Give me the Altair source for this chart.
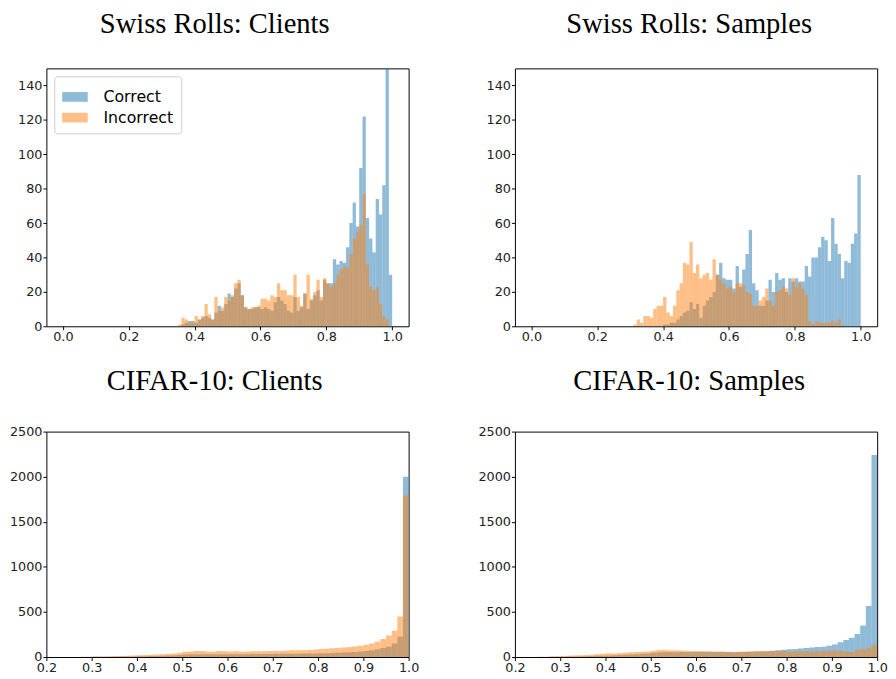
import altair as alt
import pandas as pd

# ---------------- data ----------------
# Swiss Rolls: Clients  (bin width 0.01)
tl_correct_start = 0.35
tl_correct = [0, 1, 2, 3, 3, 2, 4, 5, 6, 5,
              4, 8, 12, 9, 13, 19, 17, 22, 25, 18,
              11, 10, 10, 11, 11, 10, 11, 10, 9, 14,
              17, 15, 13, 9, 8, 17, 9, 11, 19, 10,
              15, 18, 21, 15, 27, 25, 25, 39, 36, 38,
              37, 46, 60, 72, 58, 92, 122, 63, 51, 43,
              74, 65, 82, 165, 30]
tl_incorrect_start = 0.35
tl_incorrect = [1, 5, 4, 2, 2, 6, 4, 6, 13, 7,
                4, 17, 9, 11, 17, 15, 18, 25, 27, 18,
                11, 10, 11, 11, 12, 16, 16, 15, 18, 17,
                25, 21, 21, 18, 18, 30, 17, 12, 19, 30,
                16, 20, 27, 17, 28, 25, 23, 25, 30, 33,
                35, 34, 42, 51, 55, 59, 77, 36, 23, 21,
                23, 13, 6, 4, 0]

# Swiss Rolls: Samples  (bin width 0.01)
tr_correct_start = 0.40
tr_correct = [1, 1, 2, 2, 4, 6, 8, 9, 14, 10,
              13, 5, 12, 15, 17, 20, 30, 37, 28, 27,
              27, 22, 35, 23, 33, 42, 56, 25, 21, 12,
              12, 15, 27, 20, 31, 27, 28, 20, 28, 26,
              28, 26, 26, 35, 29, 40, 40, 46, 52, 50,
              38, 63, 48, 42, 28, 38, 37, 48, 54, 88]
tr_incorrect_start = 0.31
tr_incorrect = [1, 4, 2, 6, 6, 5, 10, 12, 12, 17,
                8, 6, 12, 21, 25, 37, 36, 49, 31, 36,
                28, 30, 31, 27, 39, 30, 27, 25, 22, 23,
                20, 25, 25, 24, 20, 19, 12, 12, 15, 17,
                22, 15, 12, 20, 21, 23, 22, 18, 28, 23,
                25, 22, 18, 3, 1, 3, 2, 2, 2, 2,
                3, 2, 4]

# CIFAR-10 (bin width 0.0125, starting at 0.25)
bl_correct = [0, 0, 1, 1, 2, 2, 3, 3, 4, 5,
              6, 7, 8, 9, 10, 12, 14, 16, 18, 22,
              28, 30, 32, 31, 30, 30, 32, 32, 31, 32,
              30, 32, 33, 33, 34, 34, 35, 35, 36, 36,
              37, 38, 38, 40, 42, 43, 45, 47, 50, 53,
              57, 62, 68, 76, 85, 100, 115, 150, 225, 2000]
bl_incorrect = [0, 0, 2, 3, 5, 6, 7, 8, 10, 12,
                15, 17, 20, 22, 25, 28, 30, 33, 38, 45,
                58, 62, 68, 66, 60, 58, 66, 64, 62, 63,
                58, 62, 63, 64, 65, 66, 67, 68, 72, 74,
                75, 76, 78, 84, 88, 92, 96, 100, 105, 112,
                118, 125, 135, 150, 170, 200, 240, 290, 450, 1790]
br_correct = [0, 1, 2, 3, 4, 5, 6, 7, 9, 11,
              13, 15, 18, 20, 22, 25, 28, 32, 36, 40,
              46, 52, 55, 55, 54, 55, 56, 57, 58, 58,
              58, 57, 56, 55, 54, 55, 56, 58, 60, 62,
              65, 70, 75, 80, 85, 90, 95, 100, 105, 110,
              115, 125, 140, 165, 190, 215, 255, 350, 565, 2240]
br_incorrect = [2, 4, 6, 8, 10, 13, 16, 19, 22, 26,
                30, 36, 42, 40, 44, 48, 52, 55, 58, 62,
                70, 78, 80, 76, 74, 72, 70, 66, 64, 63,
                62, 60, 60, 58, 56, 58, 60, 62, 64, 66,
                68, 68, 66, 64, 62, 62, 63, 64, 65, 66,
                68, 70, 72, 70, 62, 56, 80, 90, 100, 135]
cifar_start = 0.25

series_names = ["Correct", "Incorrect"]
series_colors = ["#1f77b4", "#ff7f0e"]

titles = ["Swiss Rolls: Clients", "Swiss Rolls: Samples",
          "CIFAR-10: Clients", "CIFAR-10: Samples"]


def hist_frame(start, width, counts, name):
    rows = []
    for i, c in enumerate(counts):
        s = round(start + i * width, 5)
        rows.append({"start": s, "end": round(s + width, 5), "count": c,
                     "zero": 0, "series": name})
    return rows


def panel(rows, title, xdom, xticks, ydom, yticks, w, h, legend, dx):
    df = pd.DataFrame(rows)
    leg = None
    if legend:
        leg = alt.Legend(
            title=None, orient="top-left", offset=8, padding=8,
            strokeColor="#cccccc", fillColor="white", cornerRadius=3,
            labelFont="DejaVu Sans", labelFontSize=16, labelColor="black",
            labelOffset=16, rowPadding=0,
            symbolType="M-1,-0.38H1V0.38H-1Z", symbolSize=676,
            symbolOpacity=0.5, symbolStrokeWidth=0,
        )
    return alt.Chart(df).mark_rect(opacity=0.5, clip=True, strokeWidth=0).encode(
        x=alt.X("start:Q", scale=alt.Scale(domain=xdom, nice=False, zero=False),
                axis=alt.Axis(values=xticks, format=".1f", title=None)),
        x2="end:Q",
        y=alt.Y("count:Q", scale=alt.Scale(domain=ydom, nice=False),
                axis=alt.Axis(values=yticks, format="d", title=None)),
        y2="zero:Q",
        color=alt.Color("series:N",
                        scale=alt.Scale(domain=series_names, range=series_colors),
                        legend=leg),
        order=alt.Order("series:N"),
    ).properties(
        width=w, height=h,
        title=alt.TitleParams(title, dx=dx),
    )


tl_rows = hist_frame(tl_correct_start, 0.01, tl_correct, "Correct") + \
    hist_frame(tl_incorrect_start, 0.01, tl_incorrect, "Incorrect")
tr_rows = hist_frame(tr_correct_start, 0.01, tr_correct, "Correct") + \
    hist_frame(tr_incorrect_start, 0.01, tr_incorrect, "Incorrect")
bl_rows = hist_frame(cifar_start, 0.0125, bl_correct, "Correct") + \
    hist_frame(cifar_start, 0.0125, bl_incorrect, "Incorrect")
br_rows = hist_frame(cifar_start, 0.0125, br_correct, "Correct") + \
    hist_frame(cifar_start, 0.0125, br_incorrect, "Incorrect")

top_x = [0.0, 0.2, 0.4, 0.6, 0.8, 1.0]
top_y = [0, 20, 40, 60, 80, 100, 120, 140]
bot_x = [0.2, 0.3, 0.4, 0.5, 0.6, 0.7, 0.8, 0.9, 1.0]
bot_y = [0, 500, 1000, 1500, 2000, 2500]

p1 = panel(tl_rows, titles[0], [-0.05, 1.05], top_x, [0, 150], top_y, 368, 262, True, -13)
p2 = panel(tr_rows, titles[1], [-0.05, 1.05], top_x, [0, 150], top_y, 368, 262, False, -7)
p3 = panel(bl_rows, titles[2], [0.2, 1.0], bot_x, [0, 2500], bot_y, 368, 229, False, -13)
p4 = panel(br_rows, titles[3], [0.2, 1.0], bot_x, [0, 2500], bot_y, 368, 229, False, -7)

chart = alt.concat(
    p1, p2, p3, p4, columns=2,
    spacing={"row": 107, "column": 108}, bounds="flush",
).resolve_scale(
    color="independent"
).properties(
    padding={"left": 0, "top": -4, "right": 0, "bottom": 0}
).configure_view(
    stroke="black", strokeWidth=1
).configure_axis(
    domain=False, grid=False, tickColor="black", tickSize=3.5, tickWidth=1,
    labelFont="DejaVu Sans", labelFontSize=13, labelColor="#222222",
    labelPadding=1, labelFlush=False,
).configure_title(
    font="Liberation Serif", fontSize=29, fontWeight="normal", color="black",
    anchor="middle", offset=30,
)

chart.save("out.html", embed_options={"renderer": "svg", "actions": False})
